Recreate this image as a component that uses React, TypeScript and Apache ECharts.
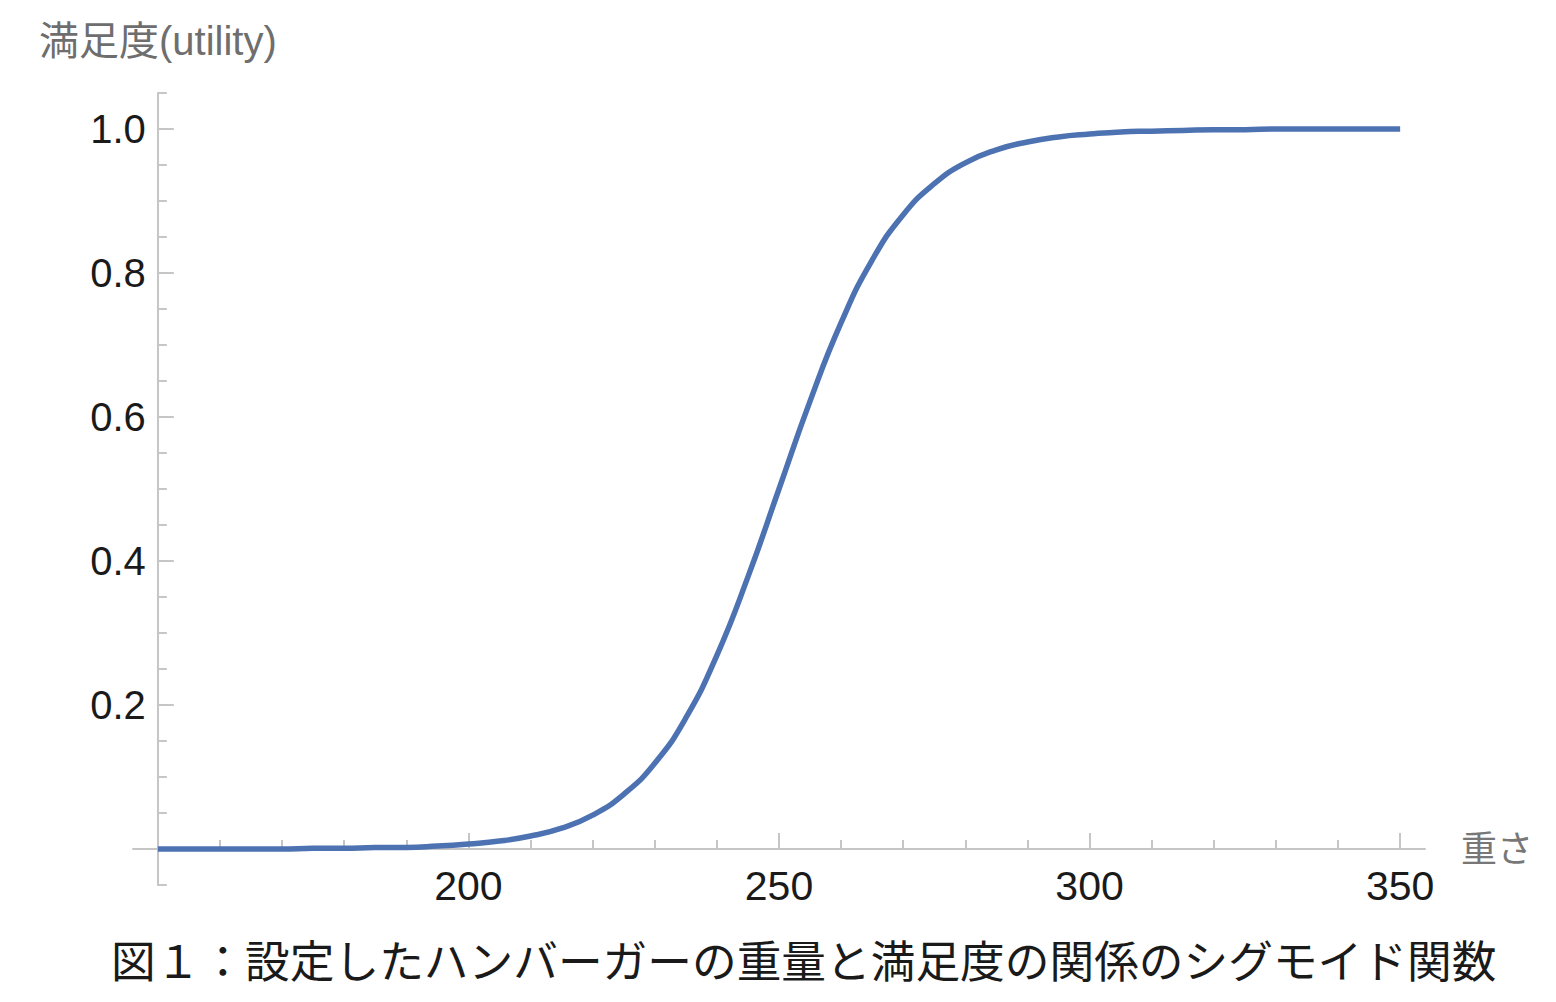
import React, { useEffect, useRef } from "react";
import * as echarts from "echarts";

// Weight (x) and utility (y)
const weights = [
  150, 155, 160, 165, 170, 175, 180, 185, 190, 195, 200, 205, 210, 215, 220, 225, 230,
  235, 240, 245, 250, 255, 260, 265, 270, 275, 280, 285, 290, 295, 300, 305, 310, 315,
  320, 325, 330, 335, 340, 345, 350,
];
const utility = [
  0.0, 0.0, 0.0, 0.0, 0.0, 0.001, 0.001, 0.002, 0.002, 0.004, 0.007, 0.011, 0.018,
  0.029, 0.047, 0.076, 0.119, 0.182, 0.269, 0.378, 0.5, 0.622, 0.731, 0.818, 0.881,
  0.924, 0.953, 0.971, 0.982, 0.989, 0.993, 0.996, 0.997, 0.998, 0.999, 0.999, 1.0,
  1.0, 1.0, 1.0, 1.0,
];

const xMajorTicks = [200, 250, 300, 350];
const xMinorTicks = [160, 170, 180, 190, 210, 220, 230, 240, 260, 270, 280, 290, 310, 320, 330, 340];
const yMajorTicks = [0, 0.2, 0.4, 0.6, 0.8, 1.0];
const yLabelTicks = [0.2, 0.4, 0.6, 0.8, 1.0];
const yMinorTicks = [
  -0.05, 0.05, 0.1, 0.15, 0.25, 0.3, 0.35, 0.45, 0.5, 0.55, 0.65, 0.7, 0.75, 0.85, 0.9,
  0.95, 1.05,
];

const xAxisName = "重さ";
const yAxisName = "満足度(utility)";
const caption = "図１：設定したハンバーガーの重量と満足度の関係のシグモイド関数";

const FONT = '"Liberation Sans", "Noto Sans CJK JP", sans-serif';
const AXIS_COLOR = "#c6c6c6";

export default function App() {
  const ref = useRef<HTMLDivElement>(null);

  useEffect(() => {
    if (!ref.current) return;
    const chart = echarts.init(ref.current, null, { renderer: "svg" });
    const xMin = 146;
    const xMax = 354;
    const gridLeft = 133;
    const gridWidth = 1292;
    const yAxisOffset = -((150 - xMin) / (xMax - xMin)) * gridWidth;

    const data = weights.map((w, i) => [w, utility[i]]);

    chart.setOption({
      animation: false,
      backgroundColor: "#ffffff",
      title: {
        text: caption,
        left: 106,
        top: 931,
        textStyle: {
          fontFamily: '"Noto Sans CJK JP", sans-serif',
          fontSize: 44.7,
          fontWeight: "normal",
          color: "#1a1a1a",
        },
      },
      grid: {
        left: gridLeft,
        top: 93,
        width: gridWidth,
        height: 792,
        containLabel: false,
      },
      xAxis: [
        {
          type: "value",
          position: "bottom",
          min: xMin,
          max: xMax,
          name: xAxisName,
          nameLocation: "end",
          nameGap: 36,
          nameTextStyle: {
            fontFamily: FONT,
            fontSize: 36,
            color: "#777777",
            align: "left",
            verticalAlign: "middle",
          },
          axisLine: { show: true, onZero: true, lineStyle: { color: AXIS_COLOR, width: 2 } },
          axisTick: {
            show: true,
            inside: true,
            length: 16,
            customValues: xMajorTicks,
            lineStyle: { color: AXIS_COLOR, width: 2 },
          },
          axisLabel: {
            show: true,
            customValues: xMajorTicks,
            margin: -20,
            fontFamily: FONT,
            fontSize: 41,
            color: "#1a1a1a",
          },
          splitLine: { show: false },
        },
        {
          type: "value",
          position: "bottom",
          min: xMin,
          max: xMax,
          axisLine: { show: false, onZero: true },
          axisTick: {
            show: true,
            inside: true,
            length: 9,
            customValues: xMinorTicks,
            lineStyle: { color: AXIS_COLOR, width: 2 },
          },
          axisLabel: { show: false },
          splitLine: { show: false },
        },
      ],
      yAxis: [
        {
          type: "value",
          position: "left",
          min: -0.05,
          max: 1.05,
          offset: yAxisOffset,
          name: yAxisName,
          nameLocation: "end",
          nameGap: 32,
          nameTextStyle: {
            fontFamily: FONT,
            fontSize: 40,
            color: "#6e6e6e",
            align: "center",
            verticalAlign: "bottom",
          },
          axisLine: { show: true, onZero: false, lineStyle: { color: AXIS_COLOR, width: 2 } },
          axisTick: {
            show: true,
            inside: true,
            length: 16,
            customValues: yMajorTicks,
            lineStyle: { color: AXIS_COLOR, width: 2 },
          },
          axisLabel: {
            show: true,
            customValues: yLabelTicks,
            margin: 12,
            fontFamily: FONT,
            fontSize: 40,
            color: "#1a1a1a",
            formatter: (v: number) => v.toFixed(1),
          },
          splitLine: { show: false },
        },
        {
          type: "value",
          position: "left",
          min: -0.05,
          max: 1.05,
          offset: yAxisOffset,
          axisLine: { show: false, onZero: false },
          axisTick: {
            show: true,
            inside: true,
            length: 9,
            customValues: yMinorTicks,
            lineStyle: { color: AXIS_COLOR, width: 2 },
          },
          axisLabel: { show: false },
          splitLine: { show: false },
        },
      ],
      series: [
        {
          type: "line",
          xAxisIndex: 0,
          yAxisIndex: 0,
          data,
          showSymbol: false,
          smooth: 0.5,
          lineStyle: { color: "#4d72b2", width: 5.5 },
          z: 5,
        },
      ],
    });
    return () => chart.dispose();
  }, []);

  return (
    <div
      ref={ref}
      style={{ position: "fixed", left: 0, top: 0, width: 1556, height: 1002, background: "#fff" }}
    />
  );
}
